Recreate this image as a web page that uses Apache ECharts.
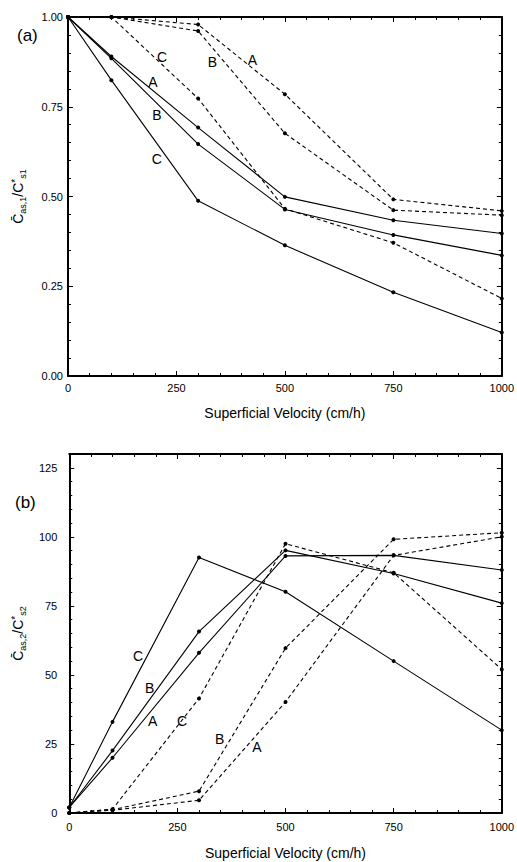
<!DOCTYPE html>
<html>
<head>
<meta charset="utf-8">
<script src="https://cdn.jsdelivr.net/npm/echarts@6/dist/echarts.min.js"></script>
<style>
html,body{margin:0;padding:0;background:#fff;}
#chart{width:517px;height:862px;}
</style>
</head>
<body>
<div id="chart"></div>
<script>
// ---- data ----
const velocities = [0, 100, 300, 500, 750, 1000];
const xTickLabels = ['0', '250', '500', '750', '1000'];
const yTickLabelsA = ['0.00', '0.25', '0.50', '0.75', '1.00'];
const yTickLabelsB = ['0', '25', '50', '75', '100', '125'];

// panel (a): C_as,1 / C*_s1
const aSolidA = [1.00, 0.890, 0.692, 0.499, 0.434, 0.397];
const aSolidB = [1.00, 0.885, 0.646, 0.464, 0.393, 0.336];
const aSolidC = [1.00, 0.824, 0.488, 0.364, 0.233, 0.121];
const aDashA  = [1.00, 1.00, 0.979, 0.785, 0.492, 0.460];
const aDashB  = [1.00, 1.00, 0.961, 0.676, 0.462, 0.448];
const aDashC  = [1.00, 1.00, 0.773, 0.466, 0.371, 0.216];

// panel (b): C_as,2 / C*_s2
const bSolidA = [2, 20, 58, 93.1, 93.3, 88];
const bSolidB = [2, 22.6, 65.7, 95.1, 86.7, 76];
const bSolidC = [2, 33, 92.5, 80.1, 55, 30];
const bDashA  = [0, 1.0, 4.6, 40.2, 93.3, 100];
const bDashB  = [0, 1.2, 7.9, 59.7, 99.1, 101.5];
const bDashC  = [0, 1.4, 41.5, 97.5, 87, 52];

// curve labels [x, y, text]
const aCurveLabels = [
  [217, 0.889, 'C'], [333, 0.875, 'B'], [425, 0.880, 'A'],
  [196, 0.819, 'A'], [205, 0.727, 'B'], [205, 0.604, 'C']
];
const bCurveLabels = [
  [159, 56.7, 'C'], [186, 45.2, 'B'], [193, 33.3, 'A'],
  [261, 33.3, 'C'], [348, 26.9, 'B'], [434, 24.0, 'A']
];

// ---- chart ----
const FONT = '"Liberation Sans", Arial, sans-serif';
const pair = (ys) => velocities.map((x, i) => [x, ys[i]]);

function lineSeries(ys, dashed, gi) {
  return {
    type: 'line', xAxisIndex: gi * 2, yAxisIndex: gi * 2, data: pair(ys),
    symbol: 'circle', symbolSize: 4, showSymbol: true,
    itemStyle: { color: '#000', opacity: 1 },
    lineStyle: { color: '#000', width: 1.1, type: dashed ? [4, 3] : 'solid' },
    animation: false, z: 3
  };
}
function labelSeries(labels, gi) {
  return {
    type: 'scatter', xAxisIndex: gi * 2, yAxisIndex: gi * 2,
    data: labels.map(l => ({ value: [l[0], l[1]], name: l[2] })),
    symbolSize: 0, silent: true, animation: false,
    itemStyle: { color: '#000', opacity: 1 },
    label: { show: true, position: 'inside', formatter: p => p.name, opacity: 1,
      fontFamily: FONT, fontSize: 14, color: '#000', textBorderWidth: 0 }
  };
}
function bottomX(gi, showLabels, labelMargin, nameGap) {
  return {
    type: 'value', gridIndex: gi, position: 'bottom', min: 0, max: 1000, interval: 250,
    axisLine: { show: true, onZero: false, lineStyle: { color: '#000', width: 2 } },
    axisTick: { show: true, inside: true, length: 5, lineStyle: { color: '#000' } },
    minorTick: { show: true, splitNumber: 5, length: 3, lineStyle: { color: '#000' } },
    splitLine: { show: false },
    axisLabel: { show: showLabels, margin: labelMargin, fontFamily: FONT, fontSize: 11, color: '#000',
      formatter: v => { const i = [0,250,500,750,1000].indexOf(v); return i >= 0 ? xTickLabels[i] : ''; } },
    name: 'Superficial Velocity (cm/h)', nameLocation: 'middle', nameGap: nameGap,
    nameTextStyle: { fontFamily: FONT, fontSize: 14, color: '#000' }
  };
}
function topX(gi) {
  return {
    type: 'value', gridIndex: gi, position: 'top', min: 0, max: 1000, interval: 250,
    axisLine: { show: true, onZero: false, lineStyle: { color: '#000', width: 2 } },
    axisTick: { show: true, inside: true, length: 5, lineStyle: { color: '#000' } },
    minorTick: { show: true, splitNumber: 5, length: 3, lineStyle: { color: '#000' } },
    splitLine: { show: false }, axisLabel: { show: false }
  };
}
function richName(sub1, sub2) {
  return '{c|C\u0304}{sb|' + sub1 + '}{c|/C}{sp|*}{sb|' + sub2 + '}';
}
const richStyles = {
  c:  { fontFamily: FONT, fontSize: 14, color: '#000', lineHeight: 20, verticalAlign: 'middle' },
  sb: { fontFamily: FONT, fontSize: 9, color: '#000', lineHeight: 20, verticalAlign: 'bottom', padding: [0, 0, 1, 0] },
  sp: { fontFamily: FONT, fontSize: 10, color: '#000', lineHeight: 20, verticalAlign: 'top', padding: [2, 0, 0, 0] }
};
function leftY(gi, min, max, interval, labels, margin, name, nameGap) {
  return {
    type: 'value', gridIndex: gi, position: 'left', min: min, max: max, interval: interval,
    axisLine: { show: true, onZero: false, lineStyle: { color: '#000', width: 2 } },
    axisTick: { show: true, inside: true, length: 5, lineStyle: { color: '#000' } },
    minorTick: { show: true, splitNumber: 5, length: 3, lineStyle: { color: '#000' } },
    splitLine: { show: false },
    axisLabel: { margin: margin, fontFamily: FONT, fontSize: 11, color: '#000',
      formatter: v => { const k = Math.round((v - min) / interval); return (Math.abs(min + k * interval - v) < 1e-9 && k < labels.length) ? labels[k] : ''; } },
    name: name, nameLocation: 'middle', nameRotate: 90, nameGap: nameGap,
    nameTextStyle: { rich: richStyles }
  };
}
function rightY(gi, min, max, interval) {
  return {
    type: 'value', gridIndex: gi, position: 'right', min: min, max: max, interval: interval,
    axisLine: { show: true, onZero: false, lineStyle: { color: '#000', width: 2 } },
    axisTick: { show: true, inside: true, length: 5, lineStyle: { color: '#000' } },
    minorTick: { show: true, splitNumber: 5, length: 3, lineStyle: { color: '#000' } },
    splitLine: { show: false }, axisLabel: { show: false }
  };
}

const chart = echarts.init(document.getElementById('chart'), null, { renderer: 'svg' });
chart.setOption({
  backgroundColor: '#fff',
  animation: false,
  grid: [
    { left: 67, top: 17, width: 438, height: 359 },
    { left: 62, top: 454, width: 440, height: 359 }
  ],
  xAxis: [bottomX(0, true, 6, 30), topX(0), bottomX(1, true, 8, 33), topX(1)],
  yAxis: [
    leftY(0, 0, 1, 0.25, yTickLabelsA, 5, richName('as,1', 's1'), 40),
    rightY(0, 0, 1, 0.25),
    leftY(1, 0, 130, 25, yTickLabelsB, 12, richName('as,2', 's2'), 36),
    rightY(1, 0, 130, 25)
  ],
  graphic: [
    { type: 'text', left: 17, top: 27, style: { text: '(a)', fontFamily: FONT, fontSize: 17, fill: '#000' } },
    { type: 'text', left: 15, top: 494, style: { text: '(b)', fontFamily: FONT, fontSize: 17, fill: '#000' } }
  ],
  series: [
    lineSeries(aSolidA, false, 0), lineSeries(aSolidB, false, 0), lineSeries(aSolidC, false, 0),
    lineSeries(aDashA, true, 0), lineSeries(aDashB, true, 0), lineSeries(aDashC, true, 0),
    labelSeries(aCurveLabels, 0),
    lineSeries(bSolidA, false, 1), lineSeries(bSolidB, false, 1), lineSeries(bSolidC, false, 1),
    lineSeries(bDashA, true, 1), lineSeries(bDashB, true, 1), lineSeries(bDashC, true, 1),
    labelSeries(bCurveLabels, 1)
  ]
});
</script>
</body>
</html>
